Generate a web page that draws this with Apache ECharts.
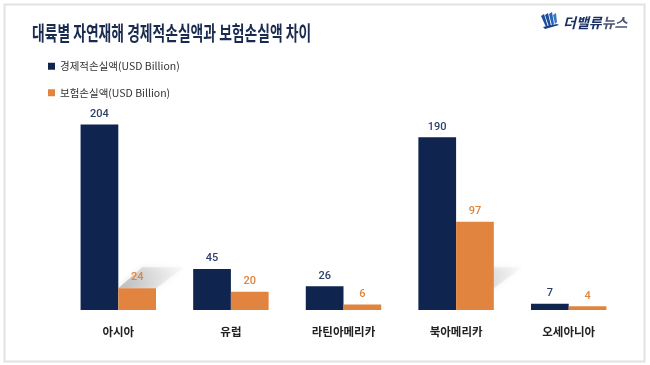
<!DOCTYPE html>
<html>
<head>
<meta charset="utf-8">
<script src="https://cdn.jsdelivr.net/npm/echarts@6/dist/echarts.min.js"></script>
<style>
html,body{margin:0;padding:0;background:#fff;}
#c{width:650px;height:365px;}
</style>
</head>
<body>
<div id="c"></div>
<script>
// ---- data ----
var categories = ['아시아', '유럽', '라틴아메리카', '북아메리카', '오세아니아'];
var economicLoss = [204, 45, 26, 190, 7];
var insuredLoss = [24, 20, 6, 97, 4];
var seriesNames = ['경제적손실액(USD Billion)', '보험손실액(USD Billion)'];
var titleText = '대륙별 자연재해 경제적손실액과 보험손실액 차이';
// decorative shadow behind orange bars (category index, low value, high value)
var shadowCats = [0, 3];
var shadowLow = [24, 24];
var shadowHigh = [47, 47];

var NAVY = '#0f2550';
var ORANGE = '#e0843f';
var FONT = '"Noto Sans CJK KR", "Noto Sans", sans-serif';

var chart = echarts.init(document.getElementById('c'), null, {renderer: 'canvas'});

var shadowData = shadowCats.map(function (c, i) { return [c, shadowLow[i], shadowHigh[i]]; });

var option = {
  backgroundColor: '#ffffff',
  animation: false,
  textStyle: {fontFamily: FONT},
  grid: {left: 62, right: 25, top: 110, bottom: 55},
  legend: {
    orient: 'vertical',
    left: 48,
    top: 61,
    padding: 0,
    itemWidth: 7,
    itemHeight: 7,
    itemGap: 16,
    icon: 'rect',
    data: seriesNames,
    textStyle: {fontSize: 10.5, color: '#333', fontFamily: FONT}
  },
  xAxis: {
    type: 'category',
    data: categories,
    axisLine: {show: false},
    axisTick: {show: false},
    axisLabel: {margin: 16, fontSize: 11.5, fontWeight: 'bold', color: '#222', fontFamily: FONT}
  },
  yAxis: {
    type: 'value',
    min: 0,
    max: 220,
    show: false,
    splitLine: {show: false}
  },
  series: [
    {
      type: 'custom',
      name: 'shadow',
      silent: true,
      z: 1,
      data: shadowData,
      renderItem: function (params, api) {
        var c = api.value(0);
        var lo = api.coord([c, api.value(1)]);
        var hi = api.coord([c, api.value(2)]);
        var bw = api.size([1, 0])[0] * 0.67 / 2;
        var sx = 30;
        return {
          type: 'polygon',
          shape: {points: [[lo[0], lo[1]], [lo[0] + bw, lo[1]], [hi[0] + bw + sx - 2, hi[1]], [hi[0] + sx - 6, hi[1]]]},
          style: {
            fill: new echarts.graphic.LinearGradient(0, 1, 1, 0, [
              {offset: 0, color: 'rgba(150,150,150,0.6)'},
              {offset: 1, color: 'rgba(215,215,215,0.1)'}
            ]),
            shadowBlur: 6,
            shadowColor: 'rgba(170,170,170,0.6)'
          }
        };
      }
    },
    {
      name: seriesNames[0],
      type: 'bar',
      data: economicLoss,
      barGap: '0%',
      barCategoryGap: '33%',
      z: 2,
      itemStyle: {color: NAVY},
      label: {show: true, position: 'top', distance: 5, color: '#2e3f68', fontSize: 11, fontWeight: 500, fontFamily: 'Roboto, sans-serif'}
    },
    {
      name: seriesNames[1],
      type: 'bar',
      data: insuredLoss,
      z: 2,
      itemStyle: {color: ORANGE},
      label: {show: true, position: 'top', distance: 5, color: '#e0843f', fontSize: 11, fontWeight: 500, fontFamily: 'Roboto, sans-serif'}
    }
  ],
  graphic: [
    {
      type: 'rect', z: -10, silent: true,
      shape: {x: 4.5, y: 4.5, width: 640, height: 357},
      style: {fill: '#fff', stroke: '#e2e2e2', lineWidth: 2}
    },
    {
      type: 'text', x: 32, y: 33, scaleX: 0.69, silent: true,
      style: {text: titleText, font: 'bold 20px ' + FONT, fill: '#1a2b50', verticalAlign: 'middle'}
    },
    {
      type: 'group', x: 541, y: 12, silent: true,
      children: [
        {type: 'polygon', shape: {points: [[0, 4], [3, 2], [7, 15], [5, 15]]}, style: {fill: '#1d4f9f'}},
        {type: 'polygon', shape: {points: [[4, 3], [7, 1], [10, 14], [8, 15]]}, style: {fill: '#1d4f9f'}},
        {type: 'polygon', shape: {points: [[8, 2], [11, 0], [13, 12], [11, 14]]}, style: {fill: '#2a64b6'}},
        {type: 'polygon', shape: {points: [[12, 3], [15, 1], [16, 10], [14, 12]]}, style: {fill: '#3a7ac8'}},
        {type: 'polygon', shape: {points: [[2, 15], [16, 12], [18, 13], [4, 17]]}, style: {fill: '#173f80'}}
      ]
    },
    {
      type: 'text', x: 563, y: 23, silent: true,
      style: {
        text: '{a|더밸류}{b|뉴스}',
        verticalAlign: 'middle',
        rich: {
          a: {font: 'italic bold 14px ' + FONT, fill: '#1a2f62'},
          b: {font: 'italic bold 14px ' + FONT, fill: '#4a5573'}
        }
      }
    }
  ]
};
chart.setOption(option);
</script>
</body>
</html>
